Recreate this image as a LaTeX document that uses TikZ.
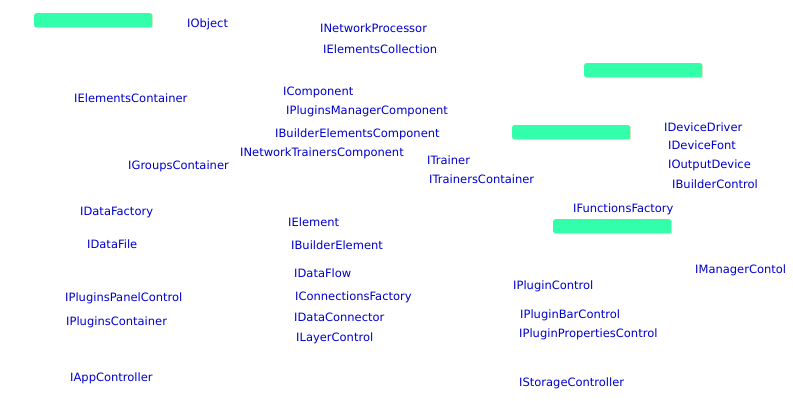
\documentclass[tikz,border=0pt]{standalone}
\usepackage{fontspec}
\setmainfont{DejaVu Sans}
\definecolor{ifaceBlue}{HTML}{0000CC}
\definecolor{barGreen}{HTML}{33FFAA}
\definecolor{barShade}{HTML}{E8E4C8}
\tikzset{
  iface/.style={anchor=west, inner sep=0pt, yshift=-1.5pt, text=ifaceBlue, font=\fontsize{11.5}{13}\selectfont},
  bar/.style={anchor=north west, inner sep=0pt, minimum width=118pt, minimum height=14pt,
    rounded corners=2pt, fill=barGreen,
    preaction={fill=barShade, transform canvas={xshift=1pt, yshift=-1pt}}}
}
\begin{document}
\begin{tikzpicture}[x=1pt, y=-1pt]
    \useasboundingbox[fill=white] (0,0) rectangle (793,400);

    % Green bars
    \node[bar] (barObject) at (34,13) {};
    \node[bar] (barDevice) at (584,63) {};
    \node[bar] (barTrainer) at (512,125) {};
    \node[bar] (barFunctions) at (553,219) {};

    % Left column
    \node[iface] (object) at (187,23) {IObject};
    \node[iface] (elementsContainer) at (74,97) {IElementsContainer};
    \node[iface] (groupsContainer) at (128,165) {IGroupsContainer};
    \node[iface] (dataFactory) at (80,211) {IDataFactory};
    \node[iface] (dataFile) at (87,243) {IDataFile};
    \node[iface] (pluginsPanel) at (65,297) {IPluginsPanelControl};
    \node[iface] (pluginsContainer) at (66,321) {IPluginsContainer};
    \node[iface] (appController) at (70,377) {IAppController};

    % Middle column
    \node[iface] (networkProcessor) at (320,27) {INetworkProcessor};
    \node[iface] (elementsCollection) at (323,48) {IElementsCollection};
    \node[iface] (component) at (283,91) {IComponent};
    \node[iface] (pluginsManager) at (286,110) {IPluginsManagerComponent};
    \node[iface] (builderElements) at (275,133) {IBuilderElementsComponent};
    \node[iface] (networkTrainers) at (240,152) {INetworkTrainersComponent};
    \node[iface] (element) at (288,221) {IElement};
    \node[iface] (builderElement) at (291,244) {IBuilderElement};
    \node[iface] (dataFlow) at (294,272) {IDataFlow};
    \node[iface] (connectionsFactory) at (295,296) {IConnectionsFactory};
    \node[iface] (dataConnector) at (294,316) {IDataConnector};
    \node[iface] (layerControl) at (296,337) {ILayerControl};

    % Right side
    \node[iface] (trainer) at (427,159) {ITrainer};
    \node[iface] (trainersContainer) at (429,178) {ITrainersContainer};
    \node[iface] (deviceDriver) at (664,126) {IDeviceDriver};
    \node[iface] (deviceFont) at (668,144) {IDeviceFont};
    \node[iface] (outputDevice) at (668,164) {IOutputDevice};
    \node[iface] (builderControl) at (672,183) {IBuilderControl};
    \node[iface] (functionsFactory) at (573,208) {IFunctionsFactory};
    \node[iface] (managerControl) at (695,269) {IManagerContol};
    \node[iface] (pluginControl) at (513,285) {IPluginControl};
    \node[iface] (pluginBar) at (520,314) {IPluginBarControl};
    \node[iface] (pluginProperties) at (519,333) {IPluginPropertiesControl};
    \node[iface] (storageController) at (519,382) {IStorageController};
\end{tikzpicture}
\end{document}
